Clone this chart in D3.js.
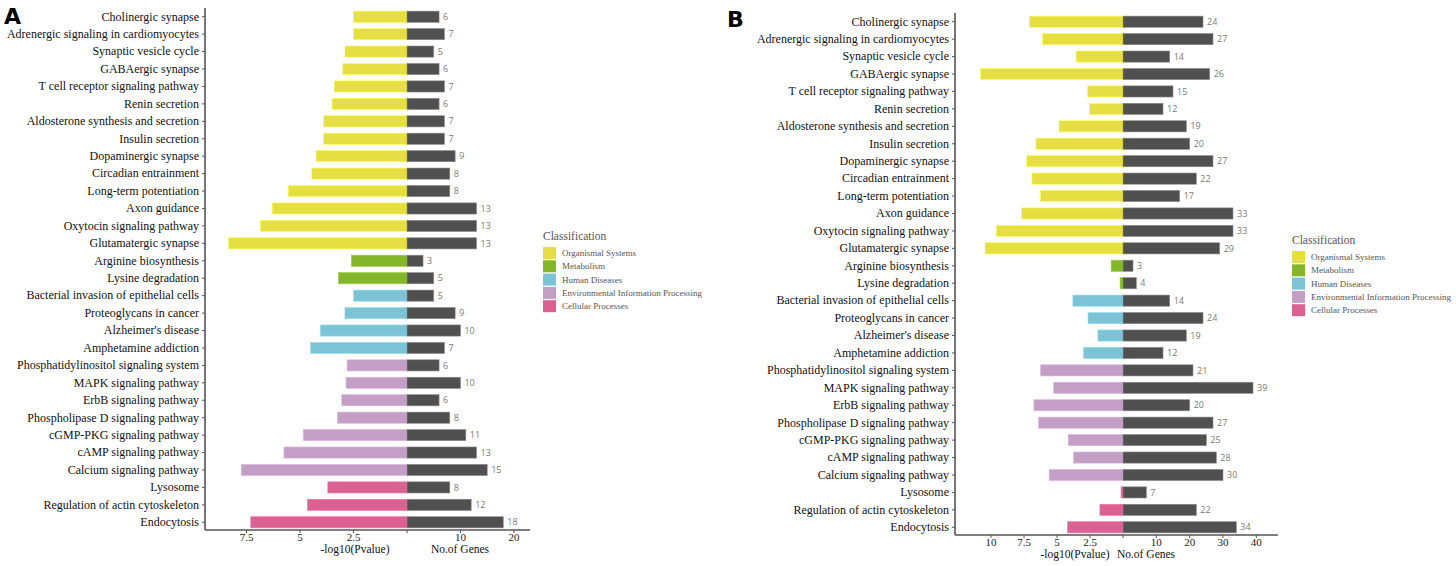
<!DOCTYPE html>
<html><head><meta charset="utf-8">
<script src="https://cdn.jsdelivr.net/npm/d3@7"></script>
<style>
html,body{margin:0;padding:0;background:#fff;}
svg{display:block;}
.serif{font-family:"Liberation Serif","DejaVu Serif",serif;}
.sans{font-family:"Open Sans","Noto Sans",sans-serif;}
</style></head>
<body>
<svg id="chart" width="1456" height="566"></svg>
<script>
const categories = [
  "Cholinergic synapse","Adrenergic signaling in cardiomyocytes","Synaptic vesicle cycle","GABAergic synapse",
  "T cell receptor signaling pathway","Renin secretion","Aldosterone synthesis and secretion","Insulin secretion",
  "Dopaminergic synapse","Circadian entrainment","Long-term potentiation","Axon guidance",
  "Oxytocin signaling pathway","Glutamatergic synapse","Arginine biosynthesis","Lysine degradation",
  "Bacterial invasion of epithelial cells","Proteoglycans in cancer","Alzheimer's disease","Amphetamine addiction",
  "Phosphatidylinositol signaling system","MAPK signaling pathway","ErbB signaling pathway","Phospholipase D signaling pathway",
  "cGMP-PKG signaling pathway","cAMP signaling pathway","Calcium signaling pathway","Lysosome",
  "Regulation of actin cytoskeleton","Endocytosis"
];
const classOf = [
  0,0,0,0,0,0,0,0,0,0,0,0,0,0,
  1,1,
  2,2,2,2,
  3,3,3,3,3,3,3,
  4,4,4
];
const classNames = ["Organismal Systems","Metabolism","Human Diseases","Environmental Information Processing","Cellular Processes"];
const classColors = ["#e5df43","#84b52b","#7cc3d6","#c39fc6","#dc6193"];

const pvalA = [2.5,2.5,2.9,3.0,3.4,3.5,3.9,3.9,4.25,4.45,5.55,6.3,6.85,8.35,2.6,3.2,
  2.5,2.9,4.05,4.5,2.8,2.85,3.05,3.25,4.85,5.75,7.75,3.7,4.65,7.3];
const genesA = [6,7,5,6,7,6,7,7,9,8,8,13,13,13,3,5,5,9,10,7,6,10,6,8,11,13,15,8,12,18];

const pvalB = [7.1,6.1,3.55,10.8,2.7,2.55,4.85,6.6,7.3,6.9,6.25,7.7,9.6,10.45,0.9,0.22,
  3.8,2.65,1.9,3.0,6.25,5.25,6.75,6.4,4.15,3.75,5.6,0.15,1.75,4.2];
const genesB = [24,27,14,26,15,12,19,20,27,22,17,33,33,29,3,4,14,24,19,12,21,39,20,27,25,28,30,7,22,34];

const leftTicksA = [7.5,5,2.5];
const rightTicksA = [10,20];
const leftTicksB = [10,7.5,5,2.5];
const rightTicksB = [10,20,30,40];
const leftTitle = "-log10(Pvalue)";
const rightTitle = "No.of Genes";
const legendTitle = "Classification";

const svg = d3.select("#chart");

function panel(cfg){
  const g = svg.append("g");
  const y = d3.scaleBand().domain(categories).range([cfg.top, cfg.bottom]).paddingInner(0.36).paddingOuter(0.18);
  const xl = d3.scaleLinear().domain([0, cfg.leftMax]).range([cfg.zero, cfg.axisX]);
  const xr = d3.scaleLinear().domain([0, cfg.rightMax]).range([cfg.zero, cfg.rightEnd]);

  g.selectAll("rect.l").data(categories).join("rect")
    .attr("x", (d,i)=>xl(cfg.pval[i]))
    .attr("y", d=>y(d))
    .attr("width", (d,i)=>xl(0)-xl(cfg.pval[i]))
    .attr("height", y.bandwidth())
    .attr("fill", (d,i)=>classColors[classOf[i]])
    .attr("stroke", (d,i)=>d3.color(classColors[classOf[i]]).brighter(0.4))
    .attr("stroke-width", 0.6);
  g.selectAll("rect.r").data(categories).join("rect")
    .attr("x", xr(0))
    .attr("y", d=>y(d))
    .attr("width", (d,i)=>xr(cfg.genes[i])-xr(0))
    .attr("height", y.bandwidth())
    .attr("fill", "#505050")
    .attr("stroke", "#8a8a8a")
    .attr("stroke-width", 0.6);
  g.selectAll("text.v").data(categories).join("text")
    .attr("class","sans")
    .attr("x", (d,i)=>xr(cfg.genes[i])+4)
    .attr("y", d=>y(d)+y.bandwidth()/2)
    .attr("dy","0.35em")
    .style("font-size", "9px")
    .attr("fill", "#7a7a7a")
    .text((d,i)=>cfg.genes[i]);

  const ya = g.append("g").attr("transform", `translate(${cfg.axisX},0)`)
    .call(d3.axisLeft(y).tickSize(3).tickPadding(3));
  ya.attr("font-family", null).attr("font-size", null);
  ya.select(".domain").attr("d", `M0,${cfg.top}V${cfg.axisY}`).attr("stroke","#555").attr("stroke-width",1.6);
  ya.selectAll(".tick line").attr("stroke","#555");
  ya.selectAll(".tick text").attr("class","serif").style("font-size", "12px").attr("fill","#111");

  const bx = g.append("g").attr("transform", `translate(0,${cfg.axisY})`);
  bx.append("line").attr("x1", cfg.axisX).attr("x2", cfg.rightEnd).attr("stroke","#555").attr("stroke-width",1.6);
  const ticks = cfg.leftTicks.map(t=>({x:xl(t), t})).concat([{x:xl(0), t:""}]).concat(cfg.rightTicks.map(t=>({x:xr(t), t})));
  bx.selectAll("line.t").data(ticks).join("line")
    .attr("x1", d=>d.x).attr("x2", d=>d.x).attr("y1",0).attr("y2",3).attr("stroke","#555");
  bx.selectAll("text.t").data(ticks).join("text")
    .attr("class","serif")
    .attr("x", d=>d.x).attr("y", 10.5)
    .attr("text-anchor","middle").style("font-size", "11px").attr("fill","#222")
    .text(d=>d.t);
  bx.append("text").attr("class","serif").attr("x", cfg.leftTitleX).attr("y", 22.5).attr("text-anchor","middle")
    .style("font-size", "11.5px").attr("fill","#111").text(leftTitle);
  bx.append("text").attr("class","serif").attr("x", cfg.rightTitleX).attr("y", 22.5).attr("text-anchor","middle")
    .style("font-size", "11.5px").attr("fill","#111").text(rightTitle);

  svg.append("text").attr("x", cfg.letterX).attr("y", cfg.letterY)
    .style("font-family","'DejaVu Sans',sans-serif").attr("font-weight","bold").style("font-size","22px")
    .attr("fill","#000").text(cfg.letter);

  const lg = svg.append("g").attr("transform", `translate(${cfg.legX},${cfg.legY})`);
  lg.append("text").attr("class","serif").attr("x",0).attr("y",0).style("font-size", "11.5px")
    .attr("fill","#555").text(legendTitle);
  const items = lg.selectAll("g.it").data(classNames).join("g")
    .attr("transform", (d,i)=>`translate(0,${7 + i*13.3})`);
  items.append("rect").attr("width", 13).attr("height", 12).attr("fill", (d,i)=>classColors[i]);
  items.append("text").attr("class","serif").attr("x", 19).attr("y", 6).attr("dy","0.35em")
    .style("font-size", "9px").attr("fill","#555").text(d=>d);
}

panel({pval:pvalA, genes:genesA, leftTicks:leftTicksA, rightTicks:rightTicksA,
  top:8, bottom:531, axisY:530, axisX:205, zero:407, leftMax:9.44, rightMax:23, rightEnd:530,
  leftTitleX:355, rightTitleX:460, letter:"A", letterX:4, letterY:24, legX:543, legY:240});
panel({pval:pvalB, genes:genesB, leftTicks:leftTicksB, rightTicks:rightTicksB,
  top:13, bottom:536, axisY:535, axisX:955, zero:1123, leftMax:12.73, rightMax:46.5, rightEnd:1278,
  leftTitleX:1075, rightTitleX:1146, letter:"B", letterX:727, letterY:27, legX:1292, legY:244});
</script>
</body></html>
